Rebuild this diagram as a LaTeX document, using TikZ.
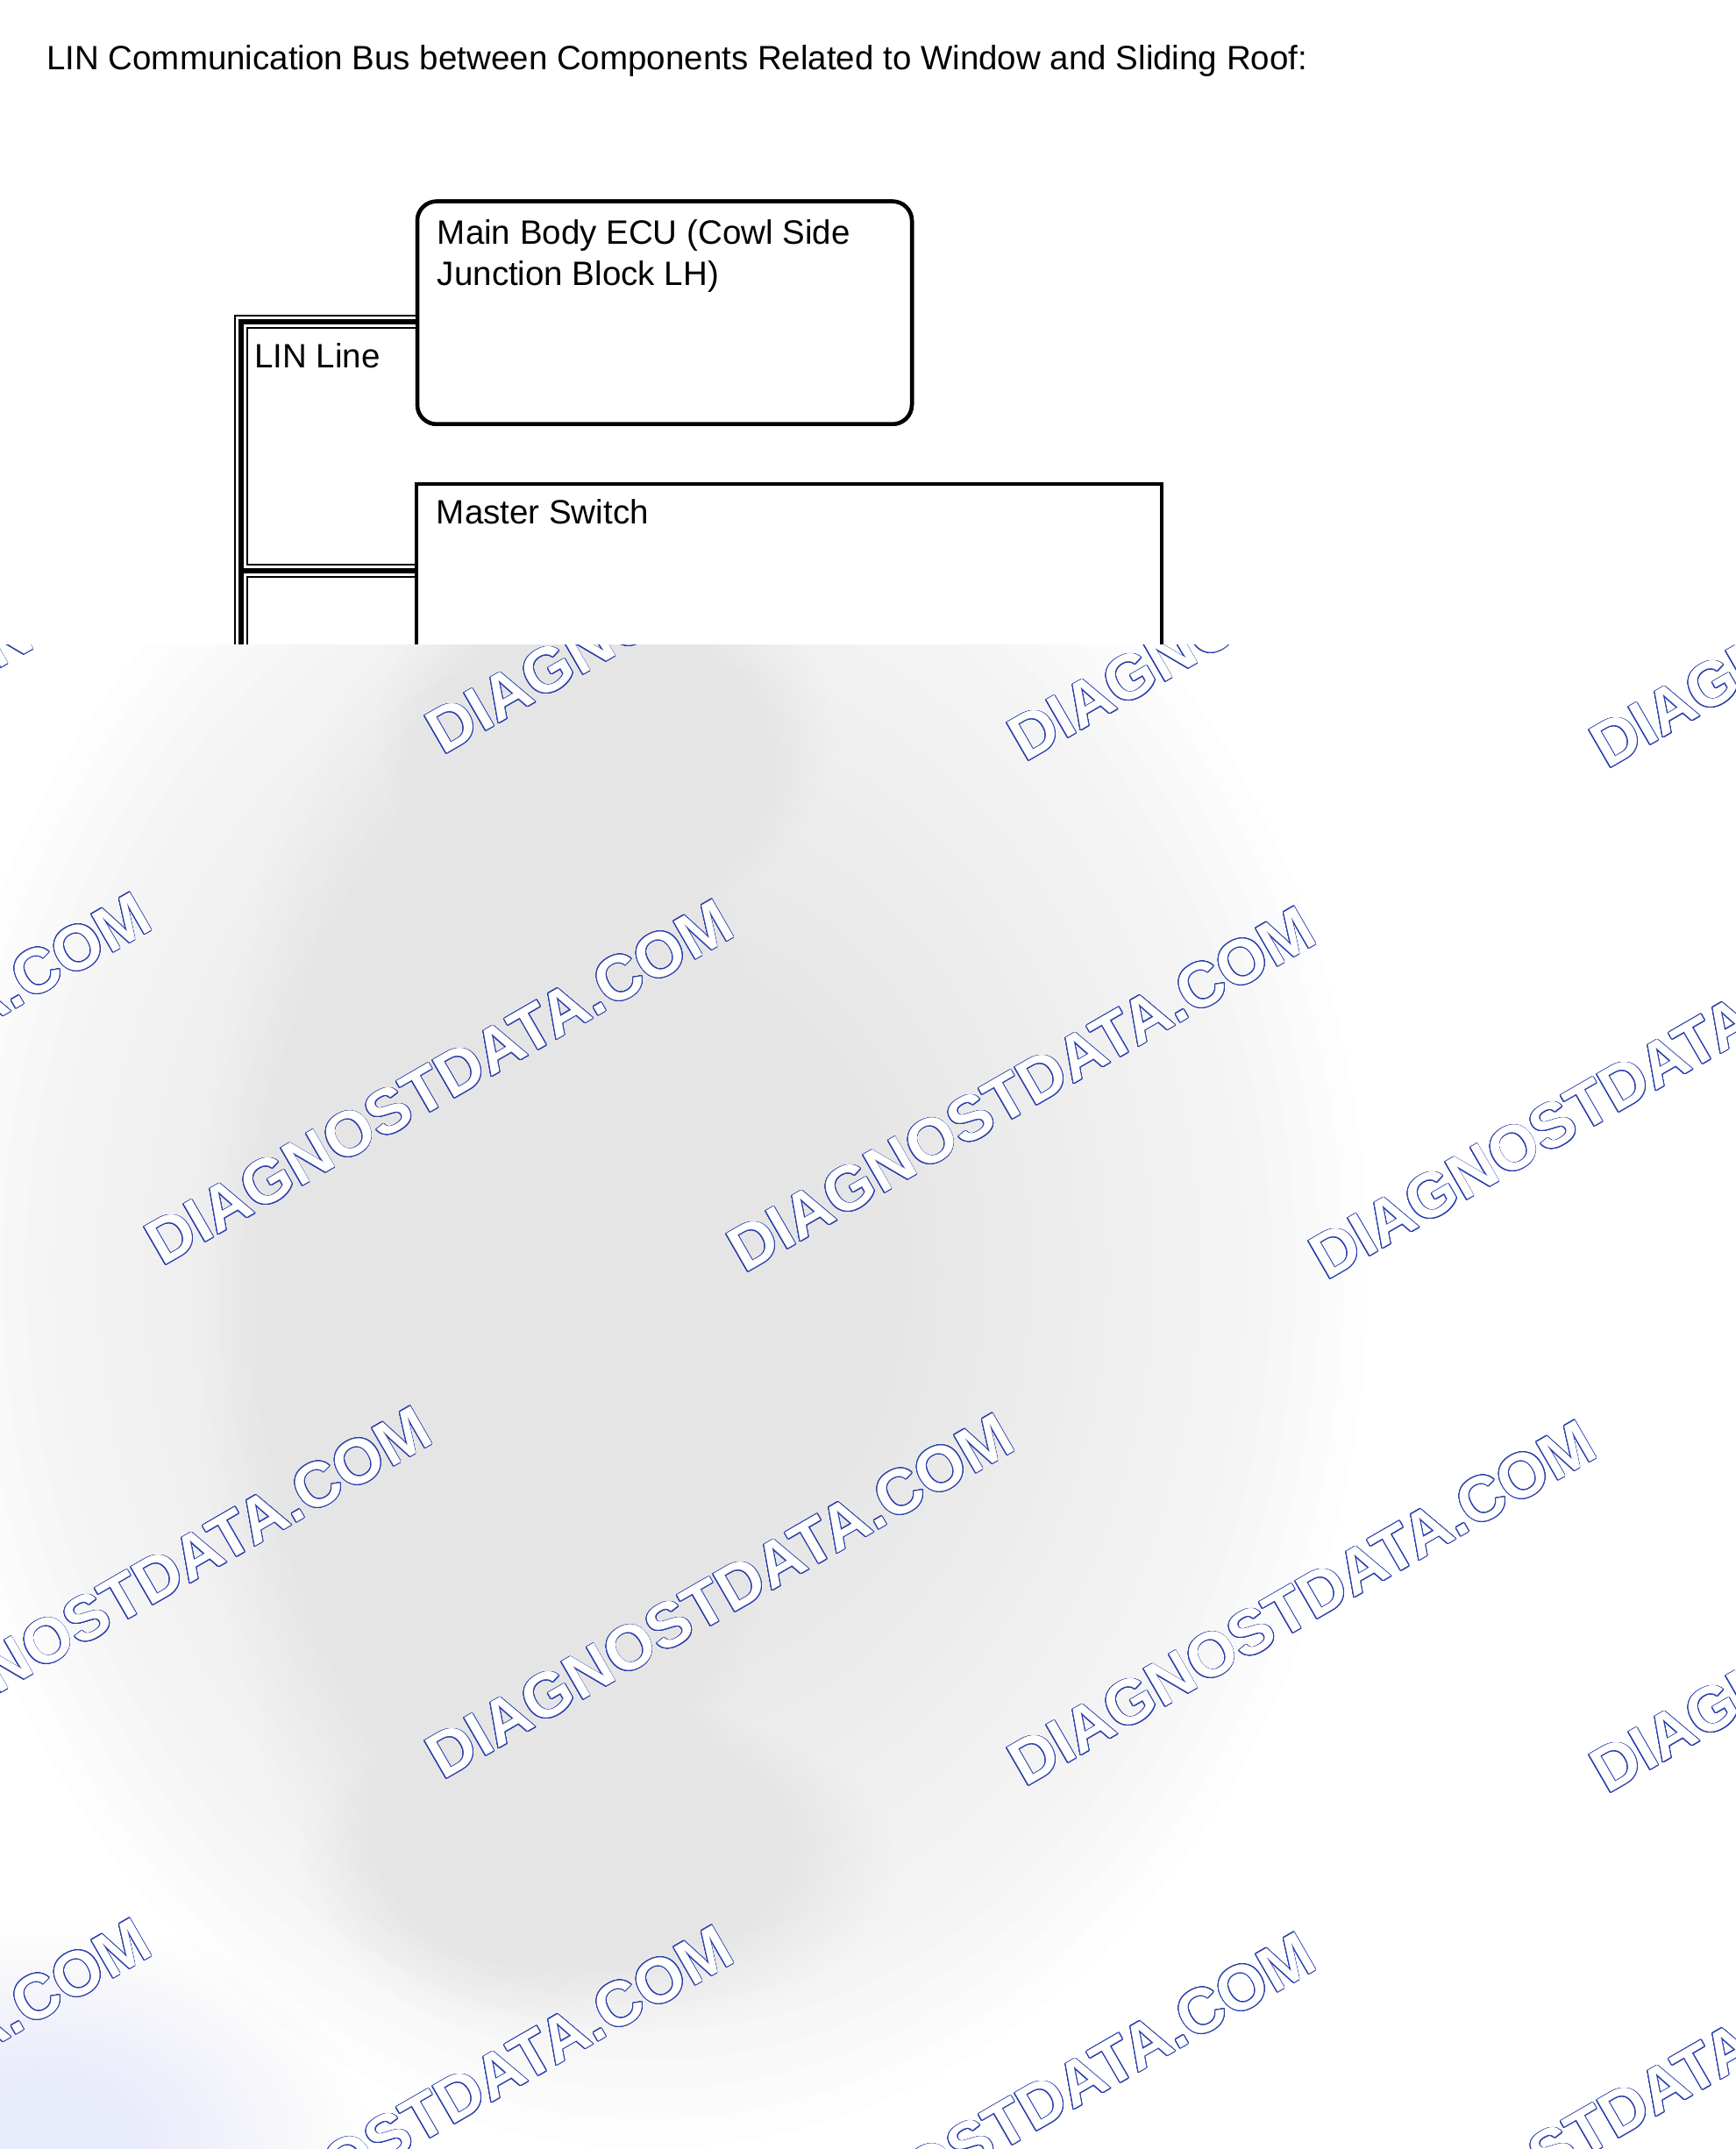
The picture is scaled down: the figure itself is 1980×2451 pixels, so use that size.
\documentclass[tikz,border=0pt]{standalone}
\usepackage{fontspec}
\setmainfont{Liberation Sans}
\usepackage{contour}
\contourlength{0.9pt}
\contournumber{24}
\usetikzlibrary{calc}
\definecolor{wmblue}{RGB}{40,62,170}
\definecolor{bluetint}{RGB}{232,236,251}
\tikzset{
  box/.style={draw=black, line width=4.5pt, fill=white, inner sep=0pt},
  lbl/.style={anchor=base west, inner sep=0pt, font=\fontsize{38.5}{47}\selectfont},
  wmtext/.style={anchor=base west, inner sep=0pt, rotate=30, text=white, font=\fontsize{72}{72}\selectfont\bfseries},
}
% soft blob (cone profile): x, y, rx, ry, colour, opacity per layer (30 layers)
\newcommand\softblob[6]{%
  \foreach \kk in {0,...,29}{%
    \fill[#5, fill opacity=#6] (#1,#2) ellipse [x radius={#3*(1-\kk/30)}, y radius={#4*(1-\kk/30)}];
  }%
}
\begin{document}
\begin{tikzpicture}[x=1pt,y=-1pt]
\useasboundingbox (0,0) rectangle (1980,2451);
\fill[white] (0,0) rectangle (1980,2451);

\node[lbl] (title) at (53,80) {LIN Communication Bus between Components Related to Window and Sliding Roof:};

% positions
\coordinate (j1) at (275,367);
\coordinate (j2) at (275,651);
\coordinate (busend) at (275,1000);

\node[box, rounded corners=22pt, minimum width=564pt, minimum height=254pt] (ecu) at (758,356.7) {};
\node[box, minimum width=850pt, minimum height=448pt] (msw) at (900,776) {};

% LIN bus (cased line)
\foreach \lw/\cc in {16/black,12.5/white,6.5/black}{
  \draw[line width=\lw pt, draw=\cc] (ecu.west |- j1) -- (j1) -- (busend);
  \draw[line width=\lw pt, draw=\cc] (j2) -- (msw.west |- j2);
}
% boxes again, over the bus ends
\node[box, rounded corners=22pt, minimum width=564pt, minimum height=254pt] (ecub) at (758,356.7) {};
\node[box, minimum width=850pt, minimum height=448pt] (mswb) at (900,776) {};

\node[lbl] (ecutxta) at ($(ecub.north west)+(25,51)$) {Main Body ECU (Cowl Side};
\node[lbl] (ecutxtb) at ($(ecub.north west)+(25,98)$) {Junction Block LH)};
\node[lbl] (mswtxt) at ($(mswb.north west)+(25,48)$) {Master Switch};
\node[lbl] (lintxt) at ($(j1)+(15,52)$) {LIN Line};

% blurred overlay
\begin{scope}
\clip (0,735) rectangle (1980,2451);
\fill[white] (0,735) rectangle (1980,2451);
\softblob{740}{1450}{820}{1000}{black!10}{0.06}
\softblob{560}{1500}{330}{820}{black!10}{0.04}
\softblob{690}{840}{260}{210}{black!10}{0.08}
\softblob{680}{2130}{340}{190}{black!10}{0.05}
\softblob{40}{2451}{380}{260}{bluetint}{0.01}
\foreach \r/\yy/\xx in {a/862/505, b/1445/185, c/2031/505, d/2615/185}{
  \foreach \k in {-1,0,1,2}{
    \node[wmtext] (wm\r\k) at ({\xx+664*\k},{\yy+8*\k}) {\contour{wmblue}{DIAGNOSTDATA.COM}};
  }
}
\end{scope}
\end{tikzpicture}
\end{document}
